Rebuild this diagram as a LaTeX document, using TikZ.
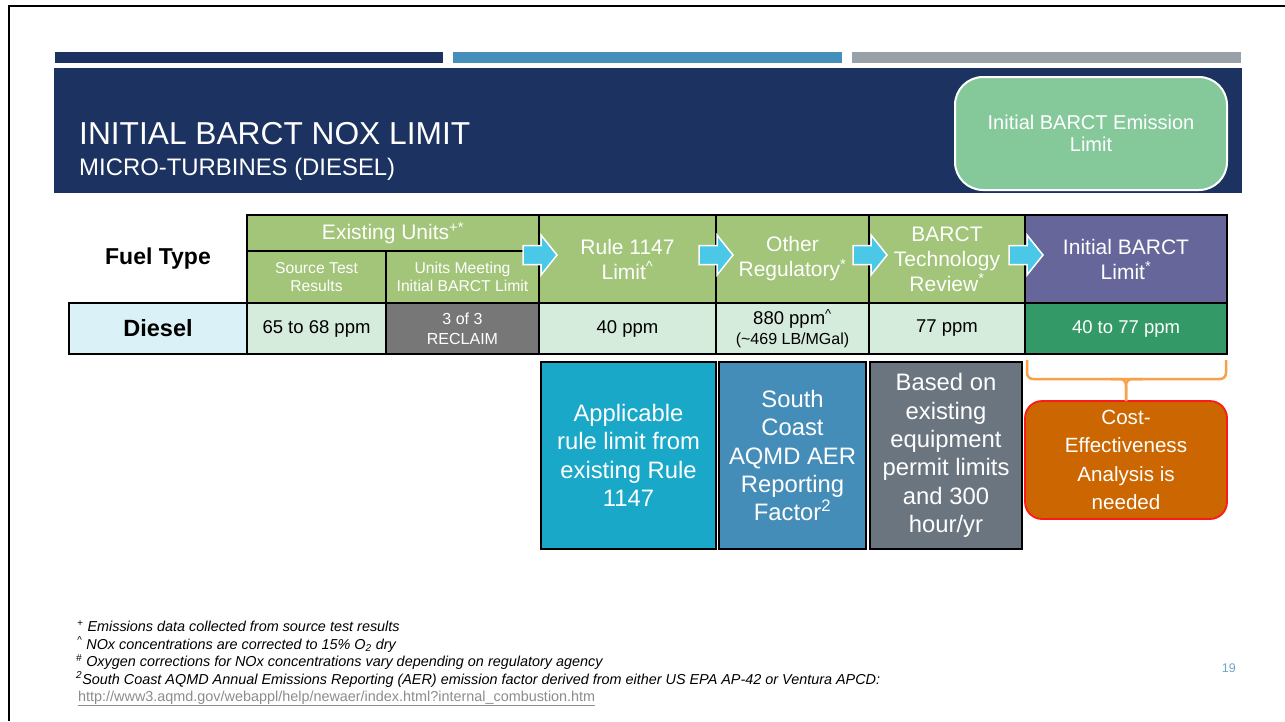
\documentclass[tikz,border=0pt]{standalone}
\usepackage{fontspec}
\setmainfont{Liberation Sans}
\usetikzlibrary{calc}

\definecolor{navy}{HTML}{1C3260}
\definecolor{barblue}{HTML}{4590BB}
\definecolor{bargray}{HTML}{98A0A8}
\definecolor{mintbox}{HTML}{85C99B}
\definecolor{hdrgreen}{HTML}{A2C579}
\definecolor{cellgreen}{HTML}{D5EBDC}
\definecolor{cellgray}{HTML}{777777}
\definecolor{cellpurple}{HTML}{66669A}
\definecolor{celldkgreen}{HTML}{339966}
\definecolor{cellcyan}{HTML}{DAF2F7}
\definecolor{arrowblue}{HTML}{4BC8E8}
\definecolor{boxcyan}{HTML}{1AA8C8}
\definecolor{boxsteel}{HTML}{458DB9}
\definecolor{boxslate}{HTML}{6B7580}
\definecolor{boxorange}{HTML}{CC6600}
\definecolor{boxred}{HTML}{FF1A1A}
\definecolor{braceorange}{HTML}{F9A04A}
\definecolor{linkgray}{HTML}{8C8C8C}
\definecolor{numblue}{HTML}{6EA7CB}

\newcommand\fsz[2]{\fontsize{#1}{#2}\selectfont}

\tikzset{
  cell/.style={draw=black, line width=1.2pt, anchor=north west, inner sep=0pt,
    outer sep=0pt, align=center, text=white},
  hdrcell/.style={cell, fill=hdrgreen, font=\fsz{21}{25}},
  subcell/.style={cell, fill=hdrgreen, font=\fsz{15.7}{18.7}},
  datacell/.style={cell, fill=cellgreen, text=black, font=\fsz{18.5}{20}},
  notebox/.style={draw=black, line width=2pt, anchor=north west, inner sep=0pt,
    outer sep=0pt, align=center, text=white, font=\fsz{23.8}{28.4}},
  footnote/.style={anchor=base west, inner sep=0pt, font=\fsz{14.4}{17}\itshape},
  brace/.style={draw=braceorange, line width=2.5pt, rounded corners=6pt},
  flowarrow/.pic={
    \path[fill=arrowblue, draw=white, line width=1.5pt, line join=miter]
      (-17,-9.5) -- (1,-9.5) -- (1,-20) -- (17,0) -- (1,20) -- (1,9.5)
      -- (-17,9.5) -- cycle;
  }
}

\begin{document}
\begin{tikzpicture}[x=1pt,y=-1pt]
\useasboundingbox (0,0) rectangle (1285,721);
\fill[white] (0,0) rectangle (1285,721);

% slide frame
\draw[line width=2.5pt, black] (9,721) -- (9,6) -- (1285,6);

% header bars and title band
\fill[navy]    (55,52)  rectangle (443,63);
\fill[barblue] (453,52) rectangle (842,63);
\fill[bargray] (852,52) rectangle (1241,63);
\fill[navy]    (54,68)  rectangle (1242,193);

\node[anchor=base west, inner sep=0pt, text=white, font=\fsz{31.7}{36}]
  (title) at (79,144) {INITIAL BARCT NOX LIMIT};
\node[anchor=base west, inner sep=0pt, text=white, font=\fsz{23.9}{28}]
  (subtitle) at (79,175) {MICRO-TURBINES (DIESEL)};

\node[anchor=north west, inner sep=0pt, outer sep=0pt, minimum width=272,
  minimum height=113, rounded corners=28pt, fill=mintbox, draw=white,
  line width=2pt, text=white, align=center, font=\fsz{20}{21.7}]
  (legend) at (955,77) {Initial BARCT Emission\\Limit};

% table header
\node[inner sep=0pt, font=\fsz{23}{26}\bfseries] (fueltype) at (158,259) {Fuel Type};
\node[hdrcell, minimum width=292, minimum height=36] (exist) at (247,215)
  {Existing Units\textsuperscript{+*}};
\node[subcell, minimum width=139, minimum height=52] (src) at (247,251)
  {Source Test\\Results};
\node[subcell, minimum width=153, minimum height=52] (meet) at (386,251)
  {Units Meeting\\Initial BARCT Limit};
\node[hdrcell, minimum width=177, minimum height=88] (rule) at (539,215)
  {Rule 1147\\Limit\textsuperscript{\textasciicircum}};
\node[hdrcell, minimum width=153, minimum height=88] (other) at (716,215)
  {Other\\Regulatory\textsuperscript{*}};
\node[hdrcell, minimum width=156, minimum height=88] (tech) at (869,215)
  {BARCT\\Technology\\Review\textsuperscript{*}};
\node[hdrcell, fill=cellpurple, minimum width=202, minimum height=88] (init) at (1025,215)
  {Initial BARCT\\Limit\textsuperscript{*}};

% table data row
\node[cell, fill=cellcyan, text=black, font=\fsz{23.5}{26}\bfseries,
  minimum width=178, minimum height=51] (diesel) at (69,303) {Diesel};
\node[datacell, minimum width=139, minimum height=51] (d1) at (247,303) {65 to 68 ppm};
\node[cell, fill=cellgray, font=\fsz{16}{20}, minimum width=153, minimum height=51]
  (d2) at (386,303) {3 of 3\\RECLAIM};
\node[datacell, minimum width=177, minimum height=51] (d3) at (539,303) {40 ppm};
\node[datacell, minimum width=153, minimum height=51] (d4) at (716,303)
  {{\fsz{18.5}{19}880 ppm\textsuperscript{\textasciicircum}}\\
   {\fsz{16}{19}(\textasciitilde469 LB/MGal)}};
\node[datacell, minimum width=156, minimum height=51] (d5) at (869,303) {77 ppm};
\node[datacell, fill=celldkgreen, text=white, minimum width=202, minimum height=51]
  (d6) at (1025,303) {40 to 77 ppm};

% flow arrows between the header columns
\pic (arrA) at ($(rule.west)+(1,-4)$)  {flowarrow};
\pic (arrB) at ($(other.west)+(0,-4)$) {flowarrow};
\pic (arrC) at ($(tech.west)+(1,-4)$)  {flowarrow};
\pic (arrD) at ($(init.west)+(1,-4)$)  {flowarrow};

% explanatory boxes
\node[notebox, fill=boxcyan, minimum width=175, minimum height=187] (boxa) at (541,362)
  {Applicable\\rule limit from\\existing Rule\\1147};
\node[notebox, fill=boxsteel, minimum width=147, minimum height=187] (boxb) at (719,362)
  {South\\Coast\\AQMD AER\\Reporting\\Factor\textsuperscript{2}};
\node[notebox, fill=boxslate, minimum width=152, minimum height=187] (boxc) at (870,362)
  {Based on\\existing\\equipment\\permit limits\\and 300\\hour/yr};
\node[notebox, fill=boxorange, draw=boxred, line width=1.8pt, rounded corners=17pt,
  font=\fsz{20.6}{28.4}, minimum width=202, minimum height=118] (boxd) at (1025,401)
  {Cost-\\Effectiveness\\Analysis is\\needed};

% brace under the limit column
\coordinate (braceL) at (1027,360);
\coordinate (braceR) at (1226,360);
\coordinate (braceM) at (1126.5,379);
\draw[brace] (braceL) |- (braceR |- braceM) -- (braceR);
\draw[brace] ($(braceM)+(-16,0)$) -| (boxd.north);
\draw[brace] ($(braceM)+(16,0)$) -| (boxd.north);

% footnotes
\node[footnote] (fn1) at (77,631.7)
  {\textsuperscript{+} Emissions data collected from source test results};
\node[footnote] (fn2) at (77,649)
  {\textsuperscript{\textasciicircum} NOx concentrations are corrected to 15\% O\textsubscript{2} dry};
\node[footnote] (fn3) at (76,666.5)
  {\textsuperscript{\#} Oxygen corrections for NOx concentrations vary depending on regulatory agency};
\node[footnote] (fn4) at (76,684)
  {\textsuperscript{2}South Coast AQMD Annual Emissions Reporting (AER) emission factor derived from either US EPA AP-42 or Ventura APCD:};
\node[anchor=base west, inner sep=0pt, font=\fsz{14.4}{17}, text=linkgray] (fn5) at (78,701)
  {\underline{http://www3.aqmd.gov/webappl/help/newaer/index.html?internal\_combustion.htm}};

% page number
\node[anchor=base east, inner sep=0pt, text=numblue, font=\fsz{12.5}{15}] (pagenum)
  at (1236,672) {19};
\end{tikzpicture}
\end{document}
